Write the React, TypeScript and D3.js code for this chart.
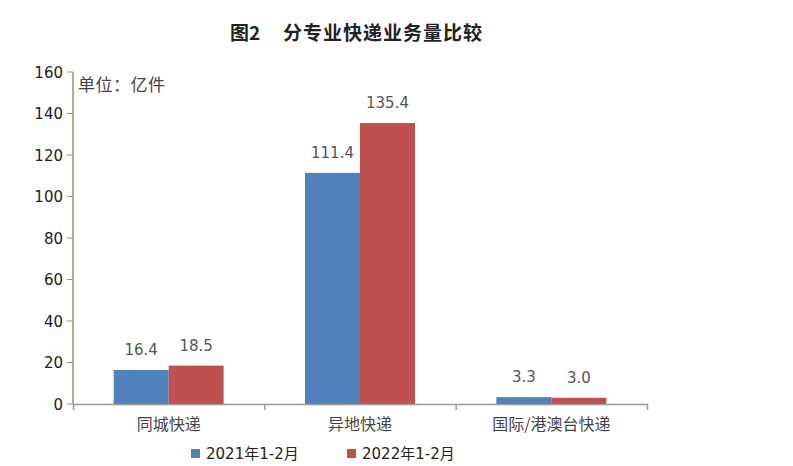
import React from "react";
import * as d3 from "d3";

const categories = ["同城快递", "异地快递", "国际/港澳台快递"];
const series = ["2021年1-2月", "2022年1-2月"];
const values2021 = [16.4, 111.4, 3.3];
const values2022 = [18.5, 135.4, 3.0];
const yTicks = [0, 20, 40, 60, 80, 100, 120, 140, 160];
const colors = ["#4F81BD", "#C0504D"];

const W = 793, H = 466;
const left = 73, right = 647, top = 72, bottom = 404;
const font = "'DejaVu Sans', 'Noto Sans CJK SC', sans-serif";
const cjk = "'Noto Sans CJK SC', sans-serif";

export default function App() {
  const x = d3.scaleBand<string>().domain(categories).range([left, right]).paddingInner(0).paddingOuter(0);
  const y = d3.scaleLinear().domain([0, 160]).range([bottom, top]);
  const inner = d3.scaleBand<string>().domain(series).range([0, x.bandwidth()]).paddingOuter(0.74).paddingInner(0);
  const data = [values2021, values2022];
  return (
    <svg width={W} height={H} style={{ position: "absolute", left: 0, top: 0, background: "#fff" }}>
      <text x={230} y={40} fontFamily={cjk} fontWeight="bold" fontSize={19} fill="#222">图2</text>
      <text x={283} y={40} fontFamily={cjk} fontWeight="bold" fontSize={19} letterSpacing={1} fill="#222">分专业快递业务量比较</text>
      {yTicks.map((t) => (
        <g key={t}>
          <line x1={left - 6} x2={left} y1={y(t)} y2={y(t)} stroke="#9B9468" strokeWidth={1} />
          <text x={63} y={y(t) + 5.5} textAnchor="end" fontFamily={font} fontSize={15} fill="#222">{t}</text>
        </g>
      ))}
      <text x={78} y={91} fontFamily={cjk} fontSize={17} letterSpacing={0.5} fill="#444">单位：亿件</text>
      {series.map((s, si) =>
        categories.map((c, ci) => {
          const v = data[si][ci];
          const bx = (x(c) as number) + (inner(s) as number);
          return (
            <g key={s + c}>
              <rect x={bx} y={y(v)} width={inner.bandwidth()} height={bottom - y(v)} fill={colors[si]} />
              <text x={bx + inner.bandwidth() / 2} y={y(v) - 15} textAnchor="middle" fontFamily={font} fontSize={15} fill="#555">{v.toFixed(1)}</text>
            </g>
          );
        })
      )}
      <line x1={left} x2={left} y1={top} y2={bottom} stroke="#9B9468" strokeWidth={1.5} />
      <line x1={left} x2={right + 1} y1={bottom + 0.5} y2={bottom + 0.5} stroke="#999" strokeWidth={1.5} />
      {[...categories.map((c) => x(c) as number), right].map((px, i) => (
        <line key={i} x1={px + 0.5} x2={px + 0.5} y1={bottom} y2={bottom + 6} stroke="#999" strokeWidth={1.5} />
      ))}
      {categories.map((c) => (
        <text key={c} x={(x(c) as number) + x.bandwidth() / 2} y={430} textAnchor="middle" fontFamily={cjk} fontSize={16} fill="#444">{c}</text>
      ))}
      {series.map((s, i) => {
        const lx = i === 0 ? 191 : 347;
        return (
          <g key={s}>
            <rect x={lx} y={449} width={9} height={9} fill={colors[i]} />
            <text x={lx + 15} y={459} fontFamily={font} fontSize={15} fill="#222">{s}</text>
          </g>
        );
      })}
    </svg>
  );
}
